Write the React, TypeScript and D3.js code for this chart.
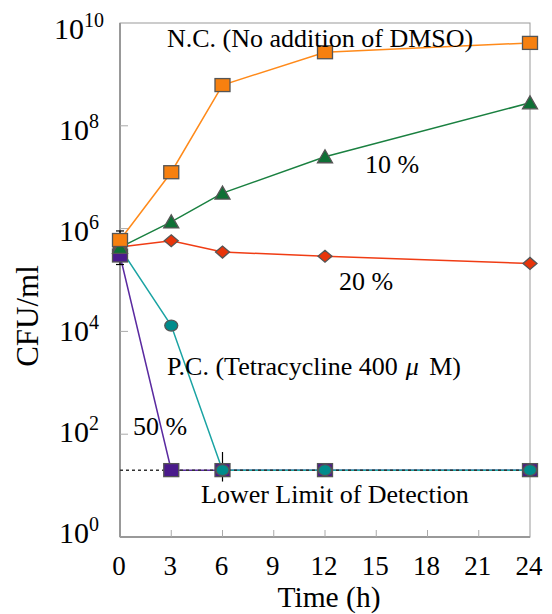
import React from "react";
import * as d3 from "d3";

// sampling times (h)
const hours = [0, 3, 6, 12, 24];
// CFU/ml
const ncValues = [6.0e5, 1.25e7, 6.2e8, 2.7e9, 4.1e9];
const dmso10Values = [4.3e5, 1.35e6, 4.9e6, 2.5e7, 2.8e8];
const dmso20Values = [4.4e5, 5.8e5, 3.5e5, 2.9e5, 2.1e5];
const pcValues = [4.2e5, 1.3e4, 20, 20, 20];
const dmso50Values = [3.0e5, 20, 20, 20, 20];
const detectionLimit = 20;

// error bars: [time, low, high]
const errorBars = [
    [0, 2.0e5, 9.0e5],
    [6, 3.0e5, 4.2e5],
    [6, 12, 45],
];

const xTicks = [0, 3, 6, 9, 12, 15, 18, 21, 24];
const yExponents = [0, 2, 4, 6, 8, 10];

const width = 552;
const height = 614;
const margin = { top: 23, right: 22, bottom: 77, left: 120 };

const serif = "Liberation Serif, Times New Roman, Times, serif";

const App = () => {
    const x = d3
        .scaleLinear()
        .domain([0, 24])
        .range([margin.left, width - margin.right]);
    const y = d3
        .scaleLog()
        .domain([1, 1e10])
        .range([height - margin.bottom, margin.top]);
    // tick labels sit on a slightly tighter spacing than the ticks
    const labelY = d3
        .scaleLog()
        .domain([1, 1e10])
        .range([height - margin.bottom + 6, margin.top + 16]);

    const line = d3
        .line<number>()
        .x((_, i) => x(hours[i]))
        .y((d) => y(d));

    const x0 = x(0);
    const x1 = x(24);
    const y0 = y(1);
    const y1 = y(1e10);

    const series = [
        { values: dmso50Values, line: "#5a2aa0", fill: "#4a1a8c", shape: "square" },
        { values: pcValues, line: "#1aa3a3", fill: "#008c8c", shape: "circle" },
        { values: dmso20Values, line: "#f03c14", fill: "#e8340a", shape: "diamond" },
        { values: dmso10Values, line: "#1a8040", fill: "#0e7035", shape: "triangle" },
        { values: ncValues, line: "#ff8a1a", fill: "#f7800f", shape: "square" },
    ];

    const marker = (shape: string, cx: number, cy: number, fill: string, key: string) => {
        const st = { fill, stroke: "#555", strokeWidth: 1.3 };
        if (shape === "square")
            return <rect key={key} x={cx - 7.5} y={cy - 6.5} width={15} height={13} {...st} />;
        if (shape === "circle")
            return <ellipse key={key} cx={cx} cy={cy} rx={6.5} ry={5.5} {...st} />;
        if (shape === "diamond")
            return (
                <path
                    key={key}
                    d={`M${cx - 7},${cy} L${cx},${cy - 6} L${cx + 7},${cy} L${cx},${cy + 6} Z`}
                    {...st}
                />
            );
        return (
            <path
                key={key}
                d={`M${cx - 7.5},${cy + 6} L${cx},${cy - 7} L${cx + 7.5},${cy + 6} Z`}
                {...st}
            />
        );
    };

    return (
        <svg
            width={width}
            height={height}
            style={{ position: "absolute", left: 0, top: 0, background: "#fff", fontFamily: serif }}
        >
            {/* frame */}
            <rect x={x0} y={y1} width={x1 - x0} height={y0 - y1} fill="none" stroke="#999" strokeWidth={1} />
            <line x1={x0} x2={x0} y1={y1} y2={y0} stroke="#999" strokeWidth={2} />
            <line x1={x0} x2={x1} y1={y0} y2={y0} stroke="#999" strokeWidth={2} />

            {/* y ticks */}
            {yExponents.map((e) => (
                <g key={"y" + e}>
                    {e > 0 && e < 10 && (
                        <line x1={x0} x2={x0 + 8} y1={y(10 ** e)} y2={y(10 ** e)} stroke="#aaa" strokeWidth={1} />
                    )}
                    <text x={79} y={labelY(10 ** e)} textAnchor="middle" fontSize={30} fill="#000">
                        10
                        <tspan fontSize={20} dy={-12}>
                            {e}
                        </tspan>
                    </text>
                </g>
            ))}

            {/* x ticks */}
            {xTicks.map((t) => (
                <g key={"x" + t}>
                    {t > 0 && t < 24 && (
                        <line x1={x(t)} x2={x(t)} y1={y0} y2={y0 - 7} stroke="#aaa" strokeWidth={1} />
                    )}
                    <text x={x(t) - 1} y={575} textAnchor="middle" fontSize={27} fill="#000">
                        {t}
                    </text>
                </g>
            ))}

            <text x={329} y={607} textAnchor="middle" fontSize={29.5}>
                Time (h)
            </text>
            <text transform={`translate(38,316) rotate(-90)`} textAnchor="middle" fontSize={31}>
                CFU/ml
            </text>

            {/* series lines */}
            {series.map((s, i) => (
                <path key={"l" + i} d={line(s.values) || ""} fill="none" stroke={s.line} strokeWidth={1.5} />
            ))}

            {/* lower limit of detection */}
            <line
                x1={x0}
                x2={x1}
                y1={y(detectionLimit)}
                y2={y(detectionLimit)}
                stroke="#333"
                strokeWidth={1.5}
                strokeDasharray="3,3"
            />

            {/* error bars */}
            {errorBars.map(([t, lo, hi], i) => (
                <g key={"e" + i} stroke="#000" strokeWidth={1.2}>
                    <line x1={x(t)} x2={x(t)} y1={y(lo)} y2={y(hi)} />
                    {i === 0 && (
                        <>
                            <line x1={x(t) - 4} x2={x(t) + 4} y1={y(lo)} y2={y(lo)} />
                            <line x1={x(t) - 4} x2={x(t) + 4} y1={y(hi)} y2={y(hi)} />
                        </>
                    )}
                </g>
            ))}

            {/* markers */}
            {series.map((s, i) =>
                s.values.map((v, j) => marker(s.shape, x(hours[j]), y(v), s.fill, `m${i}-${j}`))
            )}

            {/* annotations */}
            <g fontSize={26} fill="#000">
                <text x={167} y={47}>N.C. (No addition of DMSO)</text>
                <text x={365} y={173}>10 %</text>
                <text x={339} y={290}>20 %</text>
                <text x={167} y={375}>
                    P.C. (Tetracycline 400
                    <tspan dx={8} fontStyle="italic">μ</tspan>
                    <tspan dx={4}> M)</tspan>
                </text>
                <text x={133} y={435}>50 %</text>
                <text x={201} y={503}>Lower Limit of Detection</text>
            </g>
        </svg>
    );
};

export default App;
